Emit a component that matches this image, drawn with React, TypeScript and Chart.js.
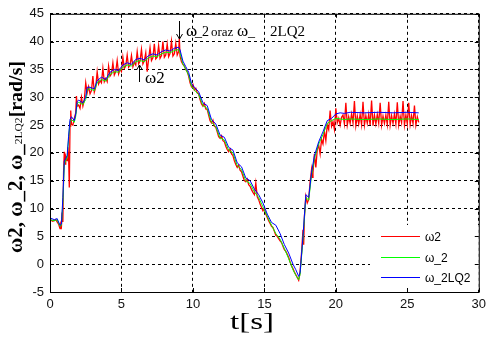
import React, { useEffect, useRef } from "react";
import { Chart, registerables } from "chart.js";

Chart.register(...registerables);

// ---------- data ----------
const seriesLabels = ["ω2", "ω_2", "ω_2LQ2"];
const seriesColors = ["#ff0000", "#00ff00", "#0000ff"];
const xTickValues = [0, 5, 10, 15, 20, 25, 30];
const yTickValues = [-5, 0, 5, 10, 15, 20, 25, 30, 35, 40, 45];

// time base shared by the two model signals
const tModel = [
  0, 0.3, 0.5, 0.7, 0.8, 0.9,
  1.0, 1.1, 1.2, 1.3, 1.4, 1.5,
  1.7, 1.8, 1.9, 2.0,
  2.3, 2.5, 2.6, 2.8,
  3.1, 3.3, 3.6, 3.9,
  4.2, 4.5, 4.8,
  5.1, 5.4, 5.7,
  6.0, 6.3, 6.6, 6.9,
  7.2, 7.5, 7.8,
  8.1, 8.4, 8.7,
  9.0, 9.1, 9.3, 9.5, 9.7, 9.9,
  10.1, 10.4, 10.7,
  11.0, 11.3, 11.6, 11.9,
  12.2, 12.5, 12.8,
  13.1, 13.4, 13.7,
  14.0, 14.3, 14.6, 14.9,
  15.2, 15.5, 15.8,
  16.1, 16.4, 16.7,
  17.0, 17.2, 17.4, 17.5, 17.7, 17.9,
  18.1, 18.3, 18.5, 18.8,
  19.1, 19.4, 19.7,
  20.0, 20.3, 20.6,
  21.0, 22.0, 23.0, 24.0, 25.0, 25.8,
];

// ω_2LQ2 (blue)
const omegaLQ2 = [
  8.3, 8.0, 8.2, 7.0, 7.2, 12.0,
  18.5, 19.0, 19.5, 23.0, 26.0, 26.5,
  25.8, 27.0, 29.2, 29.5,
  29.0, 30.0, 31.8, 31.8,
  31.5, 33.0, 33.6, 33.2,
  34.5, 35.0, 34.8,
  35.8, 36.2, 35.9,
  36.8, 37.0, 36.7, 37.5,
  37.8, 37.6, 38.2,
  38.5, 38.3, 38.8,
  39.0, 38.5, 36.5, 35.5, 34.5, 32.5,
  31.8, 31.0, 29.0,
  28.5, 26.0, 25.2, 23.2,
  22.8, 21.0, 20.5,
  18.2, 17.5, 15.5,
  15.0, 13.5, 12.5, 11.0,
  9.0, 7.5, 7.0,
  5.5, 3.5, 2.0,
  0.0, -1.0, -2.2, -1.5, 5.0, 12.5,
  12.0, 16.5, 19.5, 22.0,
  23.8, 25.8, 26.2,
  27.0, 27.2, 27.1,
  27.3, 27.2, 27.3, 27.2, 27.3, 27.2,
];

// ω_2 (green)
const omegaFilt = [
  8.0, 7.8, 8.0, 6.8, 7.0, 11.0,
  18.0, 18.6, 19.2, 22.5, 25.6, 26.0,
  25.5, 26.6, 28.8, 29.1,
  28.7, 29.6, 31.4, 31.5,
  31.2, 32.6, 33.2, 32.9,
  34.1, 34.6, 34.5,
  35.4, 35.8, 35.6,
  36.4, 36.6, 36.4, 37.1,
  37.4, 37.3, 37.8,
  38.1, 38.0, 38.4,
  38.6, 38.0, 36.0, 35.0, 34.0, 32.0,
  31.3, 30.5, 28.5,
  28.0, 25.5, 24.7, 22.7,
  22.3, 20.5, 20.0,
  17.7, 17.0, 15.0,
  14.5, 13.0, 12.0, 10.3,
  8.6, 7.0, 5.5,
  4.5, 2.8, 1.0,
  -1.0, -2.0, -2.8, -1.8, 4.5, 12.0,
  11.5, 16.0, 19.0, 21.6,
  23.3, 25.3, 25.8,
  26.2, 26.1, 26.0,
  26.1, 26.0, 26.1, 26.0, 26.1, 26.0,
];

// ω2 measured (red) as [t, value]
const omega2Meas: [number, number][] = [
  [0, 8.0], [0.2, 7.7], [0.4, 8.0], [0.5, 7.6], [0.6, 7.2], [0.7, 6.4], [0.75, 7.2], [0.8, 6.8], [0.85, 9.3], [0.9, 7.6], [0.95, 16.5],
  [1.0, 20.2], [1.05, 18.0], [1.1, 19.4], [1.2, 18.6], [1.25, 21.0], [1.3, 19.5], [1.35, 13.8], [1.4, 24.8], [1.45, 27.6], [1.5, 25.2],
  [1.6, 25.0], [1.7, 26.2], [1.8, 27.2], [1.85, 30.2], [1.9, 28.4],
  [2.0, 28.6], [2.1, 28.0], [2.2, 30.0], [2.3, 28.4], [2.4, 29.5], [2.5, 32.6], [2.6, 30.8], [2.7, 31.9], [2.8, 30.6], [2.9, 31.2],
  [3.0, 33.8], [3.1, 30.9], [3.2, 31.8], [3.3, 34.6], [3.4, 32.4], [3.5, 33.0], [3.6, 32.6], [3.7, 35.2], [3.8, 32.8], [3.9, 33.4],
  [4.0, 32.8], [4.1, 35.6], [4.2, 33.8], [4.3, 34.2], [4.4, 36.2], [4.5, 34.0], [4.6, 34.6], [4.7, 36.6], [4.8, 34.2], [4.9, 35.0],
  [5.0, 34.6], [5.1, 37.2], [5.2, 35.2], [5.3, 35.6], [5.4, 37.6], [5.5, 35.4], [5.6, 35.8], [5.7, 37.5], [5.8, 35.5], [5.9, 36.3],
  [6.0, 35.8], [6.1, 38.2], [6.2, 36.0], [6.3, 36.5], [6.4, 38.6], [6.5, 36.0], [6.6, 36.6], [6.7, 38.0], [6.8, 34.6], [6.9, 36.9],
  [7.0, 38.9], [7.1, 36.6], [7.2, 37.1], [7.3, 39.6], [7.4, 36.9], [7.5, 37.2], [7.6, 39.3], [7.7, 37.0], [7.8, 37.5], [7.9, 40.0],
  [8.0, 37.2], [8.1, 37.6], [8.2, 39.6], [8.3, 37.3], [8.4, 37.9], [8.5, 40.1], [8.6, 37.4], [8.7, 37.8], [8.8, 39.7], [8.9, 37.6],
  [9.0, 38.2], [9.05, 40.6], [9.1, 37.4], [9.2, 36.4], [9.3, 35.9], [9.4, 35.6], [9.5, 35.0], [9.6, 34.6], [9.7, 33.8], [9.8, 32.6], [9.9, 31.9],
  [10.0, 32.3], [10.1, 31.3], [10.2, 31.6], [10.3, 30.8], [10.4, 30.6], [10.5, 29.6], [10.6, 28.8], [10.7, 28.4], [10.8, 28.9], [10.9, 27.9],
  [11.0, 27.8], [11.1, 26.8], [11.2, 25.8], [11.3, 25.4], [11.4, 25.9], [11.5, 24.8], [11.6, 24.6], [11.7, 23.8], [11.8, 22.9], [11.9, 22.6],
  [12.0, 23.1], [12.1, 22.2], [12.2, 22.0], [12.3, 21.2], [12.4, 20.6], [12.5, 20.2], [12.6, 20.7], [12.7, 19.8], [12.8, 19.5], [12.9, 18.6],
  [13.0, 17.9], [13.1, 17.4], [13.2, 17.8], [13.3, 16.9], [13.4, 16.6], [13.5, 15.8], [13.6, 15.0], [13.7, 14.8], [13.8, 15.3], [13.9, 14.3],
  [14.0, 14.0], [14.1, 13.4], [14.2, 12.9], [14.3, 12.5], [14.4, 14.6], [14.5, 12.1], [14.6, 11.6], [14.7, 10.8], [14.8, 10.2], [14.9, 9.6],
  [15.0, 10.0], [15.1, 9.0], [15.2, 8.4], [15.3, 7.8], [15.4, 7.3], [15.5, 6.8], [15.6, 6.6], [15.7, 5.9], [15.8, 5.2], [15.9, 5.0],
  [16.0, 4.6], [16.1, 4.2], [16.2, 3.9], [16.3, 3.2], [16.4, 2.6], [16.5, 2.3], [16.6, 1.8], [16.7, 1.2], [16.8, 0.4], [16.9, -0.3],
  [17.0, -0.8], [17.1, -1.4], [17.2, -1.9], [17.3, -2.4], [17.4, -2.9], [17.45, -2.2], [17.5, -1.2], [17.6, 2.0], [17.7, 6.2], [17.75, 3.5],
  [17.8, 8.5], [17.9, 12.2], [18.0, 11.0], [18.1, 11.6], [18.2, 14.8], [18.3, 17.0], [18.35, 15.6], [18.4, 16.4], [18.5, 19.8], [18.6, 17.4],
  [18.7, 20.6], [18.8, 21.4], [18.9, 19.8], [19.0, 22.4], [19.1, 21.6], [19.2, 23.9], [19.3, 22.2], [19.4, 25.0], [19.5, 24.2], [19.6, 27.6],
  [19.7, 24.8], [19.8, 25.6], [19.9, 24.2], [20.0, 28.0], [20.1, 25.4], [20.2, 26.2], [20.3, 25.0], [20.4, 26.4],
  [20.5, 26.8], [20.6, 25.2], [20.7, 29.0], [20.8, 25.0], [20.9, 26.5], [21.0, 25.3], [21.1, 27.0], [21.2, 25.4], [21.3, 29.3], [21.4, 24.9],
  [21.5, 26.6], [21.6, 25.2], [21.7, 26.9], [21.8, 25.1], [21.9, 29.2], [22.0, 25.0], [22.1, 26.7], [22.2, 25.3], [22.3, 27.0], [22.4, 25.0],
  [22.5, 29.4], [22.6, 24.9], [22.7, 26.8], [22.8, 25.2], [22.9, 26.9], [23.0, 25.3], [23.1, 29.0], [23.2, 25.0], [23.3, 26.6], [23.4, 25.3],
  [23.5, 26.8], [23.6, 25.1], [23.7, 29.2], [23.8, 25.0], [23.9, 26.7], [24.0, 25.3], [24.1, 27.0], [24.2, 25.2], [24.3, 29.1], [24.4, 25.0],
  [24.5, 26.6], [24.6, 25.4], [24.7, 29.3], [24.8, 25.0], [24.9, 26.8], [25.0, 25.2], [25.1, 29.0], [25.2, 25.1], [25.3, 26.7], [25.4, 25.3],
  [25.5, 28.5], [25.6, 25.0], [25.7, 26.5], [25.8, 25.5],
];

// ---------- drawing helpers ----------
const W = 491;
const H = 339;
const SERIF = '"Liberation Serif", "Times New Roman", serif';
const SANS = '"Liberation Sans", Arial, sans-serif';

function drawArrow(ctx: CanvasRenderingContext2D, x: number, yFrom: number, yTo: number) {
  const dir = yTo < yFrom ? 1 : -1;
  ctx.beginPath();
  ctx.moveTo(x + 0.5, yFrom);
  ctx.lineTo(x + 0.5, yTo);
  ctx.moveTo(x + 0.5 - 3, yTo + dir * 5);
  ctx.lineTo(x + 0.5, yTo);
  ctx.lineTo(x + 0.5 + 3, yTo + dir * 5);
  ctx.stroke();
}

function drawPieces(
  ctx: CanvasRenderingContext2D,
  pieces: { text: string; font: string; x: number }[],
  baseline: number
) {
  for (const p of pieces) {
    ctx.font = p.font;
    ctx.fillText(p.text, p.x, baseline);
  }
}

const decorPlugin = {
  id: "decor",
  afterDraw(chart: any) {
    const ctx: CanvasRenderingContext2D = chart.ctx;
    const { left, right, top, bottom } = chart.chartArea;
    const xs = chart.scales.x;
    const ys = chart.scales.y;
    ctx.save();
    ctx.fillStyle = "#000";
    ctx.strokeStyle = "#000";
    ctx.lineWidth = 1;
    ctx.textBaseline = "alphabetic";
    ctx.textAlign = "left";

    // annotations
    drawArrow(ctx, 139, 82, 65);
    drawPieces(ctx, [{ text: "ω2", font: `17px ${SERIF}`, x: 145 }], 83);
    drawArrow(ctx, 179, 21, 39);
    drawPieces(
      ctx,
      [
        { text: "ω", font: `17px ${SERIF}`, x: 186 },
        { text: "_2", font: `14px ${SERIF}`, x: 195 },
        { text: "oraz", font: `13px ${SERIF}`, x: 211 },
        { text: "ω", font: `17px ${SERIF}`, x: 237 },
        { text: "_", font: `14px ${SERIF}`, x: 248 },
        { text: "2LQ2", font: `15px ${SERIF}`, x: 270 },
      ],
      36
    );

    // legend (inside, lower right, white background)
    ctx.fillStyle = "#fff";
    ctx.fillRect(370, 225, right - 370, 63);
    const rowsY = [236, 256.5, 277];
    seriesLabels.forEach((lab, i) => {
      const y = Math.round(rowsY[i]) + 0.5;
      ctx.strokeStyle = seriesColors[i];
      ctx.beginPath();
      ctx.moveTo(381, y);
      ctx.lineTo(420, y);
      ctx.stroke();
      ctx.fillStyle = "#000";
      ctx.font = `12px ${SANS}`;
      ctx.textBaseline = "middle";
      ctx.fillText(lab, 425, y + 1);
    });
    ctx.textBaseline = "alphabetic";

    // box and inward ticks
    ctx.strokeStyle = "#000";
    ctx.beginPath();
    ctx.rect(left + 0.5, top + 0.5, right - left, bottom - top);
    ctx.stroke();
    ctx.beginPath();
    for (const v of xTickValues) {
      const px = Math.round(xs.getPixelForValue(v)) + 0.5;
      ctx.moveTo(px, bottom);
      ctx.lineTo(px, bottom - 4);
      ctx.moveTo(px, top);
      ctx.lineTo(px, top + 4);
    }
    for (const v of yTickValues) {
      const py = Math.round(ys.getPixelForValue(v)) + 0.5;
      ctx.moveTo(left, py);
      ctx.lineTo(left + 4, py);
      ctx.moveTo(right, py);
      ctx.lineTo(right - 4, py);
    }
    ctx.stroke();

    // x title
    ctx.fillStyle = "#000";
    ctx.save();
    ctx.font = `24px ${SERIF}`;
    const xt = "t[s]";
    const xw = ctx.measureText(xt).width;
    const sxX = 44 / xw;
    ctx.translate(230, 329);
    ctx.scale(sxX, 1);
    ctx.fillText(xt, 0, 0);
    ctx.restore();

    // y title (rotated, mixed sizes)
    const parts = [
      { text: "ω2, ω_2, ω_", font: `bold 20px ${SERIF}` },
      { text: "2LQ2", font: `11px ${SERIF}` },
      { text: "[rad/s]", font: `bold 19px ${SERIF}` },
    ];
    let total = 0;
    const widths = parts.map((p) => {
      ctx.font = p.font;
      const w = ctx.measureText(p.text).width;
      total += w;
      return w;
    });
    const sy = 192 / total;
    ctx.save();
    ctx.translate(22, 253);
    ctx.rotate(-Math.PI / 2);
    ctx.scale(sy, 1);
    let cx = 0;
    parts.forEach((p, i) => {
      ctx.font = p.font;
      ctx.fillText(p.text, cx, 0);
      cx += widths[i];
    });
    ctx.restore();

    ctx.restore();
  },
};

export default function App() {
  const ref = useRef<HTMLCanvasElement>(null);
  useEffect(() => {
    document.body.style.margin = "0";
    const canvas = ref.current!;
    const redPts = omega2Meas.map(([x, y]) => ({ x, y }));
    const greenPts = tModel.map((x, i) => ({ x, y: omegaFilt[i] }));
    const bluePts = tModel.map((x, i) => ({ x, y: omegaLQ2[i] }));
    const chart = new Chart(canvas, {
      type: "line",
      data: {
        datasets: [
          { label: seriesLabels[0], data: redPts, borderColor: seriesColors[0], borderWidth: 1.3, pointRadius: 0, tension: 0, order: 3 },
          { label: seriesLabels[1], data: greenPts, borderColor: seriesColors[1], borderWidth: 1, pointRadius: 0, tension: 0, order: 2 },
          { label: seriesLabels[2], data: bluePts, borderColor: seriesColors[2], borderWidth: 1, pointRadius: 0, tension: 0, order: 1 },
        ],
      },
      options: {
        animation: false,
        responsive: false,
        devicePixelRatio: 1,
        events: [],
        layout: { padding: { top: 6, right: 9, left: 0, bottom: 0 } },
        plugins: { legend: { display: false }, tooltip: { enabled: false } },
        scales: {
          x: {
            type: "linear",
            min: 0,
            max: 30,
            afterBuildTicks: (s: any) => {
              s.ticks = xTickValues.map((v) => ({ value: v }));
            },
            afterFit: (s: any) => {
              s.height = 47;
            },
            ticks: { color: "#111", font: { family: SANS, size: 13 }, padding: 5, maxRotation: 0, autoSkip: false },
            grid: { color: "#000", lineWidth: 1, drawTicks: false, tickLength: 0 },
            border: { display: false, dash: [3, 3] },
          },
          y: {
            type: "linear",
            min: -5,
            max: 45,
            afterBuildTicks: (s: any) => {
              s.ticks = yTickValues.map((v) => ({ value: v }));
            },
            afterFit: (s: any) => {
              s.width = 50;
            },
            ticks: { color: "#111", font: { family: SANS, size: 13 }, padding: 6, autoSkip: false },
            grid: { color: "#000", lineWidth: 1, drawTicks: false, tickLength: 0 },
            border: { display: false, dash: [3, 3] },
          },
        },
      },
      plugins: [decorPlugin],
    } as any);
    return () => chart.destroy();
  }, []);
  return (
    <div style={{ position: "fixed", left: 0, top: 0, width: W, height: H, background: "#fff" }}>
      <canvas ref={ref} width={W} height={H} style={{ display: "block", width: W, height: H }} />
    </div>
  );
}
